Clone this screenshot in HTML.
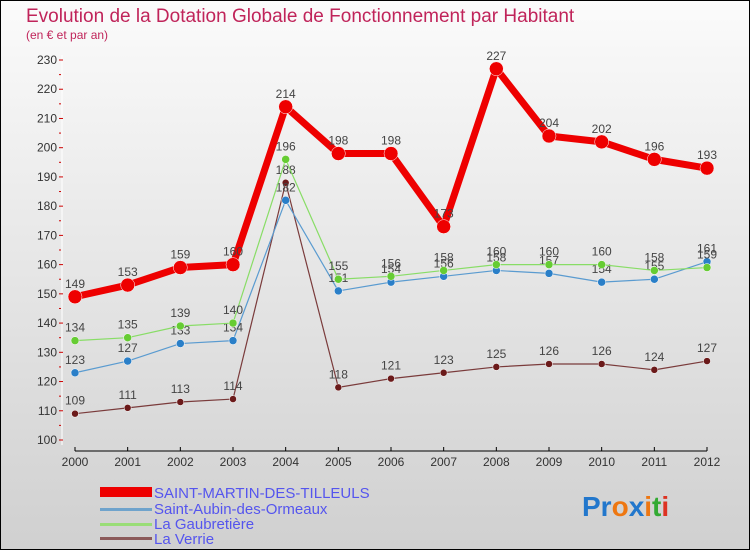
<!DOCTYPE html>
<html><head><meta charset="utf-8"><style>
body{margin:0}
#c{width:750px;height:550px;position:relative;font-family:"Liberation Sans",sans-serif}
</style></head><body>
<div id="c">
<svg id="s" width="750" height="550" xmlns="http://www.w3.org/2000/svg">
<defs><linearGradient id="bg" x1="0" y1="0" x2="0" y2="1"><stop offset="0" stop-color="#fbfbfb"/><stop offset="1" stop-color="#d0d0d0"/></linearGradient></defs>
<rect x="0.5" y="0.5" width="749" height="549" fill="url(#bg)" stroke="#000"/>
<text x="26" y="22" font-size="19" fill="#c0245a">Evolution de la Dotation Globale de Fonctionnement par Habitant</text>
<text x="26" y="39" font-size="12" fill="#c0245a">(en € et par an)</text>
<g id="axes"></g><g id="series"></g>
<g>
<rect x="100" y="487" width="52" height="10" fill="#e00"/>
<text x="154" y="498" font-size="15" fill="#5555ee">SAINT-MARTIN-DES-TILLEULS</text>
<rect x="100" y="508" width="52" height="3" fill="#6fa3cc"/>
<text x="154" y="514" font-size="15" fill="#5555ee">Saint-Aubin-des-Ormeaux</text>
<rect x="100" y="523" width="52" height="3" fill="#99dd77"/>
<text x="154" y="529" font-size="15" fill="#5555ee">La Gaubretière</text>
<rect x="100" y="537" width="52" height="3" fill="#8b5a5a"/>
<text x="154" y="544" font-size="15" fill="#5555ee">La Verrie</text>
</g>
<text x="582" y="516" font-size="28" font-weight="bold"><tspan fill="#2277cc">Pr</tspan><tspan fill="#ee7711">o</tspan><tspan fill="#2277cc">x</tspan><tspan fill="#ee7711">i</tspan><tspan fill="#33aa33">t</tspan><tspan fill="#dd3322">i</tspan></text>
</svg></div>
<script>
const years=[2000,2001,2002,2003,2004,2005,2006,2007,2008,2009,2010,2011,2012];
const yTicks=[100,110,120,130,140,150,160,170,180,190,200,210,220,230];
const smt=[149,153,159,160,214,198,198,173,227,204,202,196,193];
const sao=[123,127,133,134,182,151,154,156,158,157,154,155,161];
const gau=[134,135,139,140,196,155,156,158,160,160,160,158,159];
const ver=[109,111,113,114,188,118,121,123,125,126,126,124,127];
const NS='http://www.w3.org/2000/svg';
const X=i=>75+i*(707-75)/12, Y=v=>440-(v-100)*380/130;
function mk(t,a,p){const e=document.createElementNS(NS,t);for(const k in a)e.setAttribute(k,a[k]);p.appendChild(e);return e;}
const ax=document.getElementById('axes');
let yl=mk('line',{x1:62,y1:55,x2:62,y2:445,stroke:'#fff','stroke-width':1},ax);

yTicks.forEach(v=>{
 const t=mk('text',{x:57,y:Y(v)+4,'font-size':12,fill:'#333','text-anchor':'end'},ax);t.textContent=v;
 
 const m=mk('line',{x1:59,y1:Y(v),x2:63,y2:Y(v),stroke:'#c00','stroke-width':1},ax);
 
 if(v<230){const m2=mk('line',{x1:59,y1:Y(v+5),x2:61,y2:Y(v+5),stroke:'#c00','stroke-width':1},ax);
 }
});
const xl=mk('line',{x1:75,y1:451,x2:707,y2:451,stroke:'#000','stroke-width':1},ax);

years.forEach((y,i)=>{
 const tk=mk('line',{x1:X(i),y1:447,x2:X(i),y2:451,stroke:'#000'},ax);
 
 const t=mk('text',{x:X(i),y:466,'font-size':12,fill:'#333','text-anchor':'middle'},ax);t.textContent=y;
 
});
const sg=document.getElementById('series');
function series(vals,color,dot,w,r,name){
 const g=mk('g',{},sg);
 const pl=mk('polyline',{points:vals.map((v,i)=>X(i)+','+Y(v)).join(' '),fill:'none',stroke:color,'stroke-width':w,'stroke-linejoin':'round'},g);
 
 vals.forEach((v,i)=>{
  const c=mk('circle',{cx:X(i),cy:Y(v),r:r,fill:dot,stroke:'#fff','stroke-width':0.5},g);
  
  const t=mk('text',{x:X(i),y:Y(v)-9,'font-size':12,fill:'#444','text-anchor':'middle'},g);t.textContent=v;
  
 });
}
series(ver,'#7a3b3b','#6b1a1a',1.2,3.5,'la-verrie');
series(sao,'#5a9bd0','#2a7fc8',1.2,4,'saint-aubin');
series(gau,'#88dd66','#66cc33',1.2,4,'gaubretiere');
series(smt,'#ee0000','#ee0000',7,7,'saint-martin');
</script>
</body></html>
